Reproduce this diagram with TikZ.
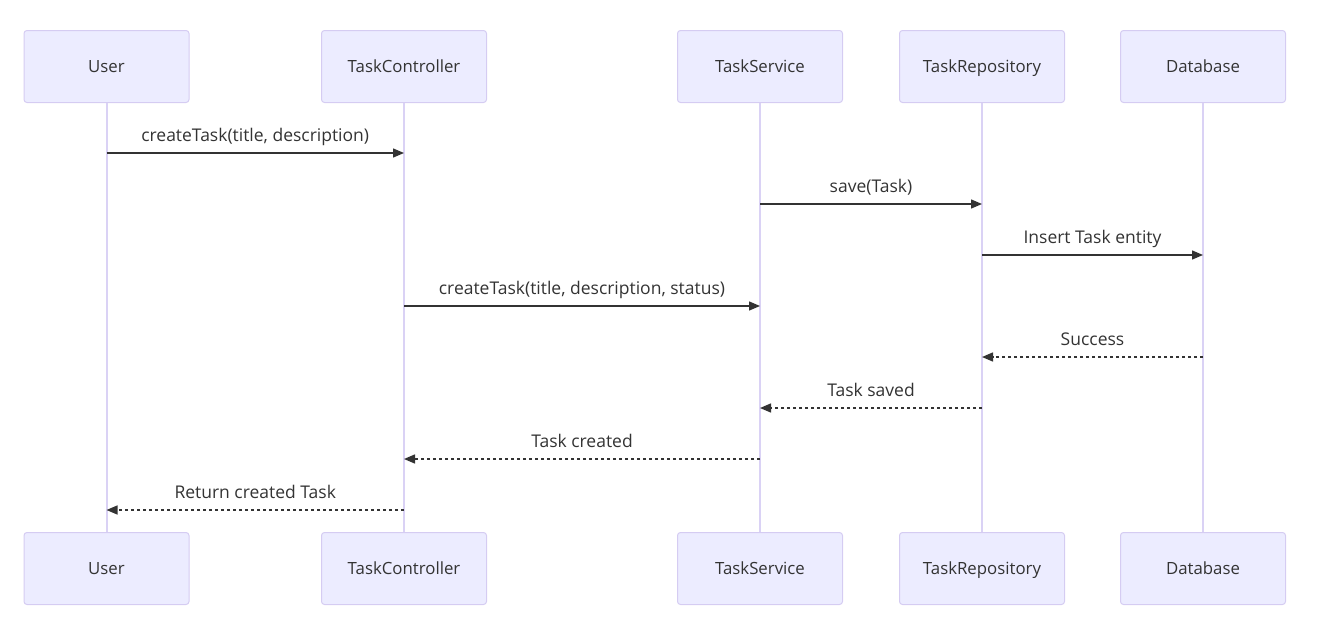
\documentclass[tikz,border=0pt]{standalone}
\usepackage{fontspec}
\setmainfont{Open Sans}
\usetikzlibrary{arrows.meta}
\definecolor{boxfill}{HTML}{ECECFF}
\definecolor{boxline}{HTML}{D5CCF2}
\definecolor{lifel}{HTML}{DAD2F5}
\definecolor{txt}{HTML}{333333}
\tikzset{
  actor/.style={draw=boxline, fill=boxfill, line width=1pt, rounded corners=3pt,
    minimum width=165pt, minimum height=72pt, inner sep=0pt, text height=12pt, text depth=0pt,
    text=txt, font=\fontsize{16.8}{20}\selectfont},
  life/.style={draw=lifel, line width=2pt},
  msg/.style={draw=txt, line width=1.4pt, -{Triangle[length=11pt,width=9pt]}},
  ret/.style={msg, dash pattern=on 3pt off 3pt},
  lbl/.style={text=txt, font=\fontsize{17.5}{20}\selectfont, inner sep=0pt, midway, anchor=base, yshift=12pt}
}
\begin{document}
\begin{tikzpicture}[x=1pt,y=-1pt]
\useasboundingbox (0,0) rectangle (1318,637);
\foreach \n/\t/\x in {u/User/106.5, c/TaskController/404, s/TaskService/760, r/TaskRepository/982, d/Database/1203}{
  \node[actor] (\n T) at (\x,66.5) {\t};
  \node[actor] (\n B) at (\x,568.5) {\t};
  \foreach \y in {153,204,255,306,357,408,459,510}{
    \coordinate (\n\y) at (\x,\y);
  }
}
\foreach \n in {u,c,s,r,d}{
  \draw[life] (\n T.south) -- (\n B.north);
}
\draw[msg] (u153) -- (c153) node[lbl] {createTask(title, description)};
\draw[msg] (s204) -- (r204) node[lbl] {save(Task)};
\draw[msg] (r255) -- (d255) node[lbl] {Insert Task entity};
\draw[msg] (c306) -- (s306) node[lbl] {createTask(title, description, status)};
\draw[ret] (d357) -- (r357) node[lbl] {Success};
\draw[ret] (r408) -- (s408) node[lbl] {Task saved};
\draw[ret] (s459) -- (c459) node[lbl] {Task created};
\draw[ret] (c510) -- (u510) node[lbl] {Return created Task};
\end{tikzpicture}
\end{document}
